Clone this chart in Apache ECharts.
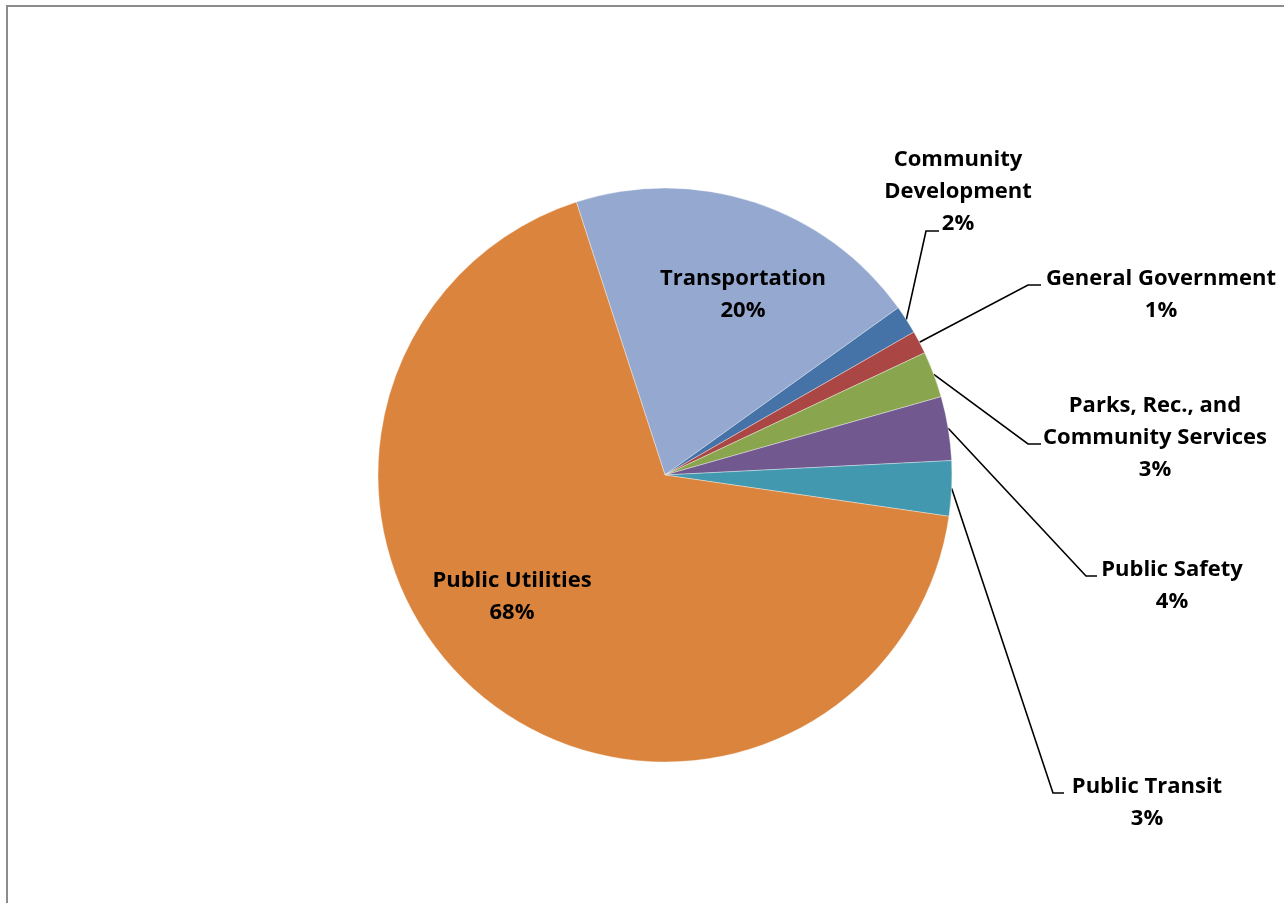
<!DOCTYPE html>
<html>
<head>
<meta charset="utf-8">
<script src="https://cdn.jsdelivr.net/npm/echarts@6/dist/echarts.min.js"></script>
<style>
  html, body { margin: 0; padding: 0; background: #fff; }
  #main { width: 1284px; height: 903px; }
</style>
</head>
<body>
<div id="main"></div>
<script>
var categories = ['Transportation', 'Community\nDevelopment', 'General Government',
  'Parks, Rec., and\nCommunity Services', 'Public Safety', 'Public Transit', 'Public Utilities'];
var values = [20.1, 1.6, 1.3, 2.6, 3.6, 3.1, 67.7];
var colors = ['#95A9D0', '#4572A7', '#AA4643', '#89A54E', '#71588F', '#4198AF', '#DB843D'];

// label placement: [centerX, topY, elbowX, elbowY, lineEndX] (elbow null = no leader line)
var labelSpots = [
  [743, 263, null, null, null],
  [958, 144, 926, 231, 939],
  [1161, 263, 1028, 285, 1041],
  [1155, 390, 1028, 444, 1041],
  [1172, 554, 1086, 576, 1097],
  [1147, 771, 1053, 793, 1064],
  [512, 565, null, null, null]
];

var myChart = echarts.init(document.getElementById('main'));

var pieData = categories.map(function (c, i) {
  return {
    name: c,
    value: values[i],
    itemStyle: { color: colors[i] },
    labelLine: { show: labelSpots[i][2] !== null }
  };
});

var option = {
  animation: false,
  backgroundColor: '#fff',
  graphic: [{
    type: 'rect',
    shape: { x: 7, y: 6, width: 1400, height: 1000 },
    style: { fill: 'none', stroke: '#8c8c8c', lineWidth: 2 }
  }],
  series: [{
    type: 'pie',
    center: [665, 475],
    radius: 287,
    startAngle: 108,
    clockwise: true,
    avoidLabelOverlap: false,
    itemStyle: { borderColor: 'rgba(255,255,255,0.6)', borderWidth: 0.6 },
    label: {
      show: true,
      position: 'outside',
      fontFamily: 'Open Sans',
      fontWeight: 'bold',
      fontSize: 22,
      lineHeight: 32,
      color: '#000',
      align: 'center',
      formatter: function (p) {
        return p.name + '\n' + Math.round(p.percent) + '%';
      }
    },
    labelLine: {
      show: true,
      length: 10,
      length2: 10,
      lineStyle: { color: '#000', width: 1.6 }
    },
    labelLayout: function (params) {
      var s = labelSpots[params.dataIndex];
      var out = { x: s[0], y: s[1], align: 'center', verticalAlign: 'top' };
      if (s[2] !== null && params.labelLinePoints) {
        var p0 = params.labelLinePoints[0];
        out.labelLinePoints = [p0, [s[2], s[3]], [s[4], s[3]]];
      }
      return out;
    },
    data: pieData
  }]
};

myChart.setOption(option);
</script>
</body>
</html>
